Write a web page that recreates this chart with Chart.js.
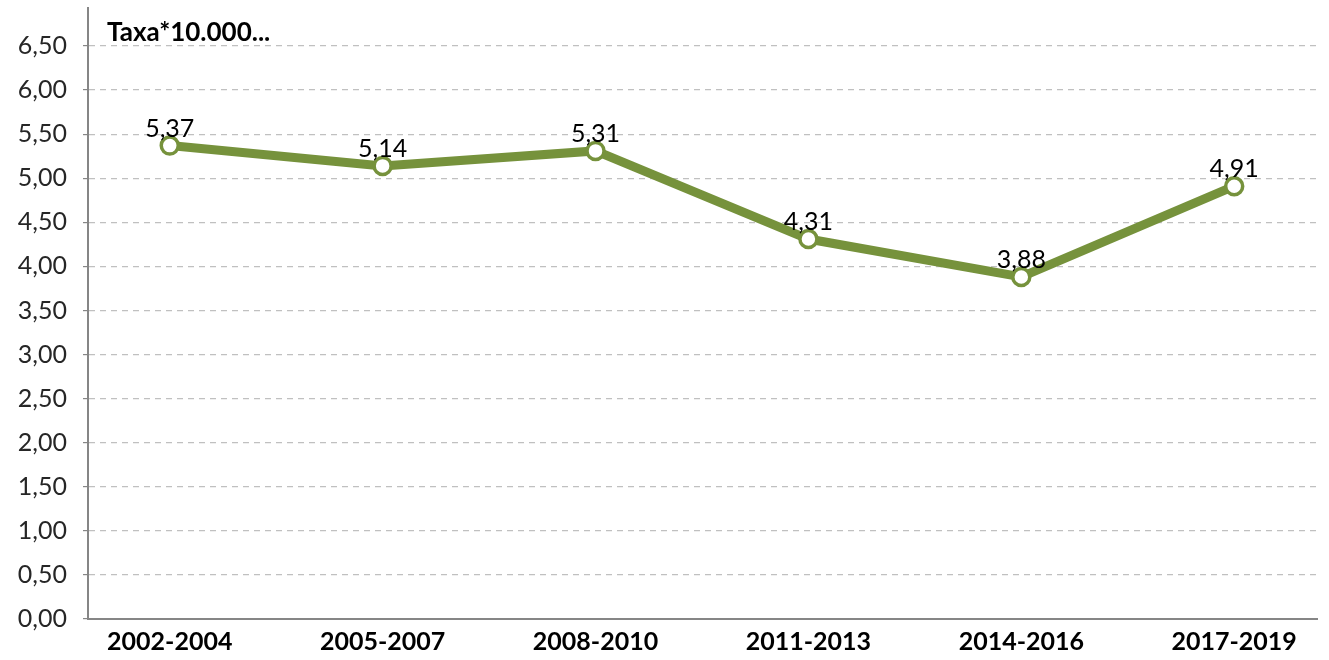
<!DOCTYPE html>
<html>
<head>
<meta charset="utf-8">
<script src="https://cdn.jsdelivr.net/npm/chart.js@4/dist/chart.umd.min.js"></script>
<style>
  body { margin: 0; background: #fff; }
  #wrap { width: 1329px; height: 660px; }
</style>
</head>
<body>
<div id="wrap"><canvas id="chart" width="1329" height="660"></canvas></div>
<script>
// datos
const periodos = ['2002-2004', '2005-2007', '2008-2010', '2011-2013', '2014-2016', '2017-2019'];
const tasas = [5.37, 5.14, 5.31, 4.31, 3.88, 4.91];
const yTicks = [0, 0.5, 1, 1.5, 2, 2.5, 3, 3.5, 4, 4.5, 5, 5.5, 6, 6.5];
const titulo = 'Taxa*10.000...';

const OLIVA = '#76923c';
const EJE = '#868686';
const FUENTE = 'Lato, "Noto Sans", sans-serif';

const coma = v => Number(v).toFixed(2).replace('.', ',');

// etiquetas de datos, texto de cabecera y prolongación del eje
const etiquetas = {
    id: 'etiquetas',
    afterDatasetsDraw(chart) {
        const ctx = chart.ctx;
        const area = chart.chartArea;
        const meta = chart.getDatasetMeta(0);
        ctx.save();
        ctx.strokeStyle = EJE;
        ctx.lineWidth = 2;
        ctx.beginPath();
        ctx.moveTo(area.left, 7);
        ctx.lineTo(area.left, area.top);
        ctx.stroke();

        ctx.fillStyle = '#000';
        ctx.font = '25px ' + FUENTE;
        ctx.textAlign = 'center';
        ctx.textBaseline = 'alphabetic';
        meta.data.forEach((pt, i) => {
            ctx.fillText(coma(tasas[i]), pt.x, pt.y - 9);
        });
        ctx.font = 'bold 26px ' + FUENTE;
        ctx.textAlign = 'left';
        ctx.fillText(titulo, area.left + 19, 41);
        ctx.restore();
    }
};

new Chart(document.getElementById('chart'), {
    type: 'line',
    data: {
        datasets: [{
            data: tasas.map((v, i) => ({ x: i, y: v })),
            borderColor: OLIVA,
            borderWidth: 9,
            pointRadius: 8.5,
            pointBorderWidth: 3.5,
            pointBorderColor: OLIVA,
            pointBackgroundColor: '#fff',
            tension: 0
        }]
    },
    options: {
        responsive: false,
        animation: false,
        layout: { padding: { top: 7, right: 8 } },
        plugins: { legend: { display: false }, tooltip: { enabled: false } },
        scales: {
            x: {
                type: 'linear',
                min: -0.384,
                max: 5.389,
                afterBuildTicks: s => { s.ticks = periodos.map((_, i) => ({ value: i })); },
                afterFit: s => { s.height = 41; s.paddingLeft = 0; s.paddingRight = 0; },
                grid: { display: false },
                border: { color: EJE, width: 2 },
                ticks: {
                    callback: v => periodos[v],
                    color: '#000',
                    font: { family: FUENTE, size: 25, weight: 'bold' },
                    padding: 0,
                    maxRotation: 0
                }
            },
            y: {
                min: 0,
                max: 6.67,
                afterBuildTicks: s => { s.ticks = yTicks.map(v => ({ value: v })); },
                afterFit: s => { s.width = 88; },
                grid: {
                    color: '#c0c0c0',
                    lineWidth: 1.2,
                    tickColor: EJE,
                    tickLength: 5,
                    tickBorderDash: []
                },
                border: { color: EJE, width: 2, dash: [6, 5] },
                ticks: {
                    callback: v => coma(v),
                    color: '#262626',
                    font: { family: FUENTE, size: 25 },
                    padding: 16
                }
            }
        }
    },
    plugins: [etiquetas]
});
</script>
</body>
</html>
